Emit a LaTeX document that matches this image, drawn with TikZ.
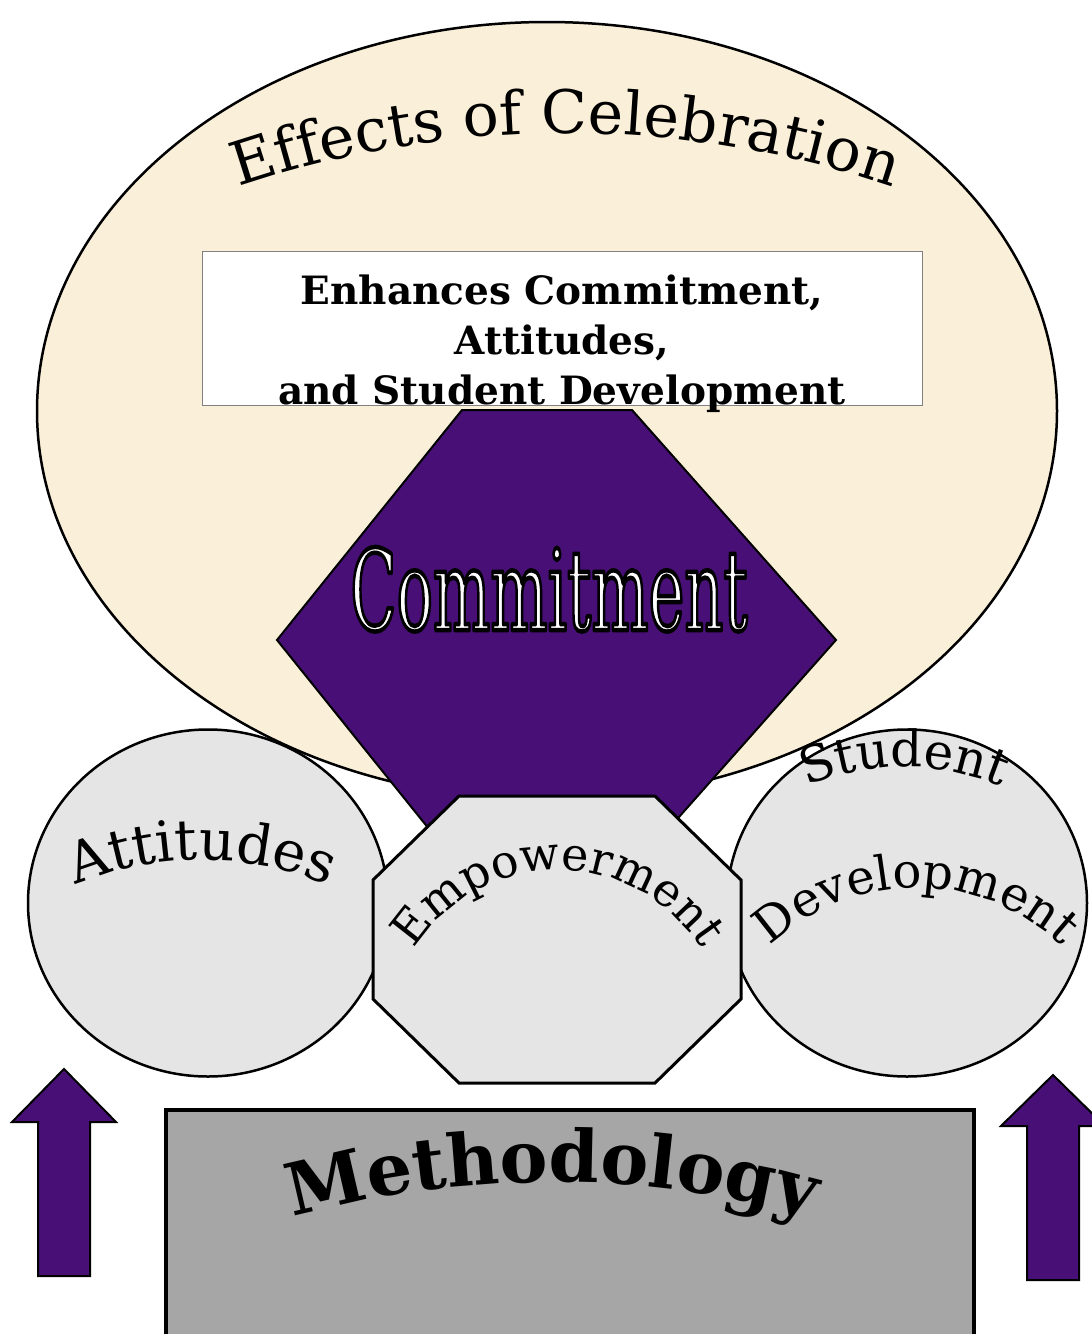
\documentclass[tikz,border=0pt]{standalone}
\usepackage{fontspec}
\setmainfont{DejaVu Serif}
\usepackage{xcolor}
\usepackage{tikz}
\usetikzlibrary{shapes.geometric, decorations.text}
\definecolor{parchment}{RGB}{250,239,217}
\definecolor{stone}{RGB}{229,229,229}
\definecolor{granite}{RGB}{166,166,166}
\definecolor{velvet}{RGB}{72,16,118}
\newcommand{\inkoutline}[1]{\special{pdf:literal direct 2 Tr 4.5 w 1 j 0 G}#1\special{pdf:literal direct 0 Tr}}
\tikzstyle{celebration} = [ellipse, draw=black, line width=2.5pt, fill=parchment, minimum width=1020pt, minimum height=778pt]
\tikzstyle{outcome} = [ellipse, draw=black, line width=2.5pt, fill=stone, minimum width=360pt, minimum height=347pt]
\tikzstyle{summary} = [rectangle, draw=gray, line width=0.8pt, fill=white, minimum width=720pt, minimum height=154pt]
\tikzstyle{velvetblock} = [draw=black, line width=2pt, fill=velvet]
\tikzstyle{empowerbox} = [draw=black, line width=3pt, fill=stone]
\tikzstyle{groundbox} = [draw=black, line width=4pt, fill=granite]
\tikzstyle{arcword} = [decorate, decoration={text along path, text align=center}]
\tikzstyle{commitlabel} = [inner sep=0pt, anchor=base, text=white, font=\fontsize{112}{112}\selectfont]

\begin{document}
\begin{tikzpicture}[x=1pt, y=-1pt]
\useasboundingbox [fill=white] (0,0) rectangle (1092,1334);

\node (effects) [celebration] at (547,411) {};
\path [arcword, decoration={text={|\fontsize{60}{60}\selectfont|Effects of Celebration}}] ([shift={(566,1150)}]118:1017pt) arc [start angle=118, end angle=62, radius=1017pt];

\node (enhances) [summary] at (562,328) {};
\node (enhancestext) [align=center, inner sep=0pt, font=\bfseries\fontsize{39}{50}\selectfont] at (562,344) {Enhances Commitment,\\ Attitudes,\\ and Student Development};

\draw [velvetblock] (462,410) -- (632,410) -- (836,640) -- (632,870) -- (462,870) -- (277,640) -- cycle;
\node (commitment) [commitlabel] at (549,630) {\scalebox{0.54}[1]{\inkoutline{Commitment}}};

\node (attitudes) [outcome] at (208,903) {};
\path [arcword, decoration={text={|\fontsize{56}{56}\selectfont|Attitudes}}] ([shift={(202,1189)}]125:329pt) arc [start angle=125, end angle=55, radius=329pt];

\node (student) [outcome] at (907,903) {};
\path [arcword, decoration={text={|\fontsize{50}{50}\selectfont|Student}}] ([shift={(904,1022)}]120:255pt) arc [start angle=120, end angle=60, radius=255pt];
\path [arcword, decoration={text={|\fontsize{48}{48}\selectfont|Development}}] ([shift={(916,1101)}]140:213pt) arc [start angle=140, end angle=40, radius=213pt];

\draw [empowerbox] (459,796) -- (655,796) -- (741,880) -- (741,999) -- (655,1083) -- (459,1083) -- (373,999) -- (373,880) -- cycle;
\path [arcword, decoration={text={|\fontsize{46}{46}\selectfont|Empowerment}}] ([shift={(558,1040)}]178:170pt) arc [start angle=178, end angle=2, radius=170pt];

\draw [groundbox] (166,1110) rectangle (974,1350);
\path [arcword, decoration={text={|\bfseries\fontsize{72}{72}\selectfont|Methodology}}] ([shift={(552,2158)}]112:976pt) arc [start angle=112, end angle=68, radius=976pt];

\draw [velvetblock] (38,1276) -- (38,1122) -- (12,1122) -- (64,1069) -- (116,1122) -- (90,1122) -- (90,1276) -- cycle;
\draw [velvetblock] (1027,1280) -- (1027,1126) -- (1001,1126) -- (1053,1075) -- (1105,1126) -- (1079,1126) -- (1079,1280) -- cycle;
\end{tikzpicture}
\end{document}
